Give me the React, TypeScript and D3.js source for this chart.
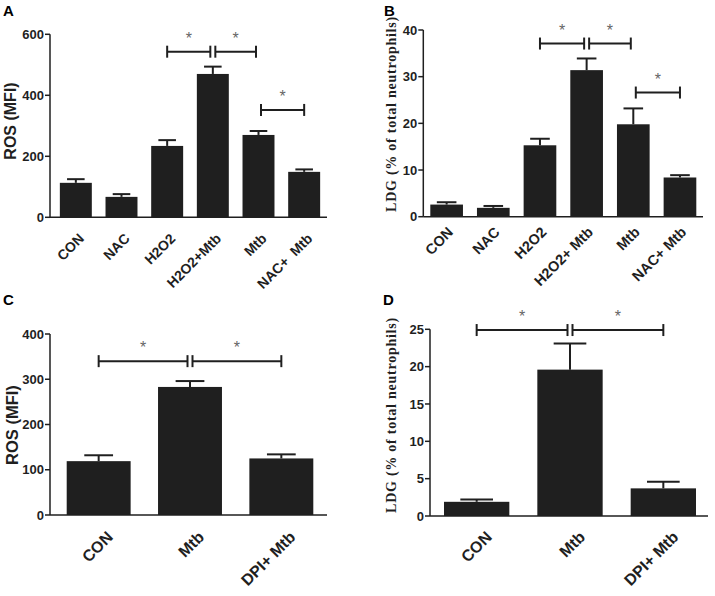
import React from "react";
import * as d3 from "d3";

// ---------- Data ----------
const catsA = ["CON", "NAC", "H2O2", "H2O2+Mtb", "Mtb", "NAC+  Mtb"];
const valsA = [113, 67, 234, 470, 270, 149];
const errA = [12, 9, 19, 24, 13, 8];
const ticksA = [0, 200, 400, 600];
const bracketsA = [[2, 3], [3, 4], [4, 5]];
const bracketLevelsA = [543, 543, 352];

const catsB = ["CON", "NAC", "H2O2", "H2O2+ Mtb", "Mtb", "NAC+ Mtb"];
const valsB = [2.6, 1.9, 15.3, 31.4, 19.8, 8.4];
const errB = [0.5, 0.4, 1.4, 2.5, 3.4, 0.5];
const ticksB = [0, 10, 20, 30, 40];
const bracketsB = [[2, 3], [3, 4], [4, 5]];
const bracketLevelsB = [37.1, 37.1, 26.6];

const catsC = ["CON", "Mtb", "DPI+ Mtb"];
const valsC = [119, 283, 125];
const errC = [13, 13, 9];
const ticksC = [0, 100, 200, 300, 400];
const bracketsC = [[0, 1], [1, 2]];
const bracketLevelsC = [340, 340];

const catsD = ["CON", "Mtb", "DPI+ Mtb"];
const valsD = [1.9, 19.6, 3.7];
const errD = [0.3, 3.5, 0.9];
const ticksD = [0, 5, 10, 15, 20, 25];
const bracketsD = [[0, 1], [1, 2]];
const bracketLevelsD = [24.9, 24.9];

const SANS = "'Liberation Sans', Arial, Helvetica, sans-serif";
const SERIF = "'Liberation Serif', 'Times New Roman', Times, serif";
const INK = "#1f1f1f";

type PanelProps = {
  letter: string;
  letterPos: [number, number];
  cats: string[];
  vals: number[];
  errs: number[];
  ticks: number[];
  brackets: number[][];
  levels: number[];
  axisX: number;
  axisEnd: number;
  bandRange: [number, number];
  yRange: [number, number];
  yLabel: string;
  yLabelPos: [number, number];
  yLabelSerif: boolean;
  yLabelSize: number;
  xLabelSize: number;
  xLabelOff: [number, number];
  capFrac: number;
};

function Panel(p: PanelProps) {
  const yMax = p.ticks[p.ticks.length - 1];
  const y = d3.scaleLinear().domain([0, yMax]).range(p.yRange);
  const x = d3
    .scaleBand<string>()
    .domain(p.cats)
    .range(p.bandRange)
    .paddingInner(0.3)
    .paddingOuter(0.15);
  const bw = x.bandwidth();
  const cx = (i: number) => (x(p.cats[i]) as number) + bw / 2;
  const y0 = y(0);

  const shared = (idx: number) =>
    p.brackets.filter((b) => b[0] === idx || b[1] === idx).length > 1;

  return (
    <g>
      <text
        x={p.letterPos[0]}
        y={p.letterPos[1]}
        fontFamily={SANS}
        fontWeight="bold"
        fontSize={15}
        fill="#000"
      >
        {p.letter}
      </text>
      {p.vals.map((v, i) => (
        <rect
          key={"b" + i}
          x={x(p.cats[i]) as number}
          y={y(v)}
          width={bw}
          height={y0 - y(v)}
          fill={INK}
        />
      ))}
      {p.vals.map((v, i) => {
        const top = y(v + p.errs[i]);
        const hw = (bw * p.capFrac) / 2;
        return (
          <g key={"e" + i} stroke={INK} strokeWidth={2}>
            <line x1={cx(i)} x2={cx(i)} y1={y(v)} y2={top} />
            <line x1={cx(i) - hw} x2={cx(i) + hw} y1={top} y2={top} />
          </g>
        );
      })}
      <line x1={p.axisX} x2={p.axisX} y1={y0} y2={y(yMax)} stroke={INK} strokeWidth={1.5} />
      <line x1={p.axisX} x2={p.axisEnd} y1={y0} y2={y0} stroke={INK} strokeWidth={1.5} />
      {p.ticks.map((t) => (
        <g key={"t" + t}>
          <line x1={p.axisX - 5} x2={p.axisX} y1={y(t)} y2={y(t)} stroke={INK} strokeWidth={1.5} />
          <text
            x={p.axisX - 6}
            y={y(t)}
            dy="0.36em"
            textAnchor="end"
            fontFamily={SANS}
            fontWeight="bold"
            fontSize={13}
            fill={INK}
          >
            {t}
          </text>
        </g>
      ))}
      {p.cats.map((c, i) => (
        <g
          key={"x" + i}
          transform={`translate(${cx(i) + p.xLabelOff[0]},${y0 + p.xLabelOff[1]})`}
        >
          <text
            transform="rotate(-45)"
            textAnchor="end"
            dy="0.72em"
            fontFamily={SANS}
            fontWeight="bold"
            fontSize={p.xLabelSize}
            fill={INK}
            xmlSpace="preserve"
          >
            {c}
          </text>
        </g>
      ))}
      <text
        transform={`translate(${p.yLabelPos[0]},${p.yLabelPos[1]}) rotate(-90)`}
        textAnchor="middle"
        dy="0.35em"
        fontFamily={p.yLabelSerif ? SERIF : SANS}
        fontWeight="bold"
        fontSize={p.yLabelSize}
        letterSpacing={p.yLabelSerif ? 0.75 : 0}
        fill={INK}
      >
        {p.yLabel}
      </text>
      {p.brackets.map((b, k) => {
        const a = cx(b[0]) + (shared(b[0]) ? 2.5 : 0);
        const e = cx(b[1]) - (shared(b[1]) ? 2.5 : 0);
        const yy = y(p.levels[k]);
        return (
          <g key={"s" + k}>
            <g stroke={INK} strokeWidth={2}>
              <line x1={a} x2={e} y1={yy} y2={yy} />
              <line x1={a} x2={a} y1={yy - 6} y2={yy + 6} />
              <line x1={e} x2={e} y1={yy - 6} y2={yy + 6} />
            </g>
            <text
              x={(a + e) / 2}
              y={yy - 8}
              textAnchor="middle"
              fontFamily={SANS}
              fontSize={16}
              fill="#666"
            >
              *
            </text>
          </g>
        );
      })}
    </g>
  );
}

export default function App() {
  return (
    <svg width={715} height={596} style={{ display: "block", position: "absolute", left: 0, top: 0 }}>
      <rect width={715} height={596} fill="#fff" />
      <Panel
        letter="A"
        letterPos={[3, 16]}
        cats={catsA}
        vals={valsA}
        errs={errA}
        ticks={ticksA}
        brackets={bracketsA}
        levels={bracketLevelsA}
        axisX={50}
        axisEnd={327}
        bandRange={[53, 327]}
        yRange={[217.3, 34.3]}
        yLabel="ROS (MFI)"
        yLabelPos={[10, 121]}
        yLabelSerif={false}
        yLabelSize={16}
        xLabelSize={14}
        xLabelOff={[2, 15]}
        capFrac={0.55}
      />
      <Panel
        letter="B"
        letterPos={[384, 16]}
        cats={catsB}
        vals={valsB}
        errs={errB}
        ticks={ticksB}
        brackets={bracketsB}
        levels={bracketLevelsB}
        axisX={423.3}
        axisEnd={703}
        bandRange={[423.3, 703.3]}
        yLabel="LDG (% of total neutrophils)"
        yRange={[216.7, 30]}
        yLabelPos={[391, 114]}
        yLabelSerif={true}
        yLabelSize={14}
        xLabelSize={14.5}
        xLabelOff={[0, 9]}
        capFrac={0.6}
      />
      <Panel
        letter="C"
        letterPos={[3, 305]}
        cats={catsC}
        vals={valsC}
        errs={errC}
        ticks={ticksC}
        brackets={bracketsC}
        levels={bracketLevelsC}
        axisX={50}
        axisEnd={327}
        bandRange={[53, 327]}
        yRange={[515, 334]}
        yLabel="ROS (MFI)"
        yLabelPos={[12, 425]}
        yLabelSerif={false}
        yLabelSize={16.5}
        xLabelSize={16}
        xLabelOff={[7, 15]}
        capFrac={0.45}
      />
      <Panel
        letter="D"
        letterPos={[383, 305]}
        cats={catsD}
        vals={valsD}
        errs={errD}
        ticks={ticksD}
        brackets={bracketsD}
        levels={bracketLevelsD}
        axisX={430}
        axisEnd={708}
        bandRange={[430, 710]}
        yRange={[516, 329.3]}
        yLabel="LDG (% of total neutrophils)"
        yLabelPos={[391, 415]}
        yLabelSerif={true}
        yLabelSize={14}
        xLabelSize={16}
        xLabelOff={[8, 14]}
        capFrac={0.5}
      />
    </svg>
  );
}
